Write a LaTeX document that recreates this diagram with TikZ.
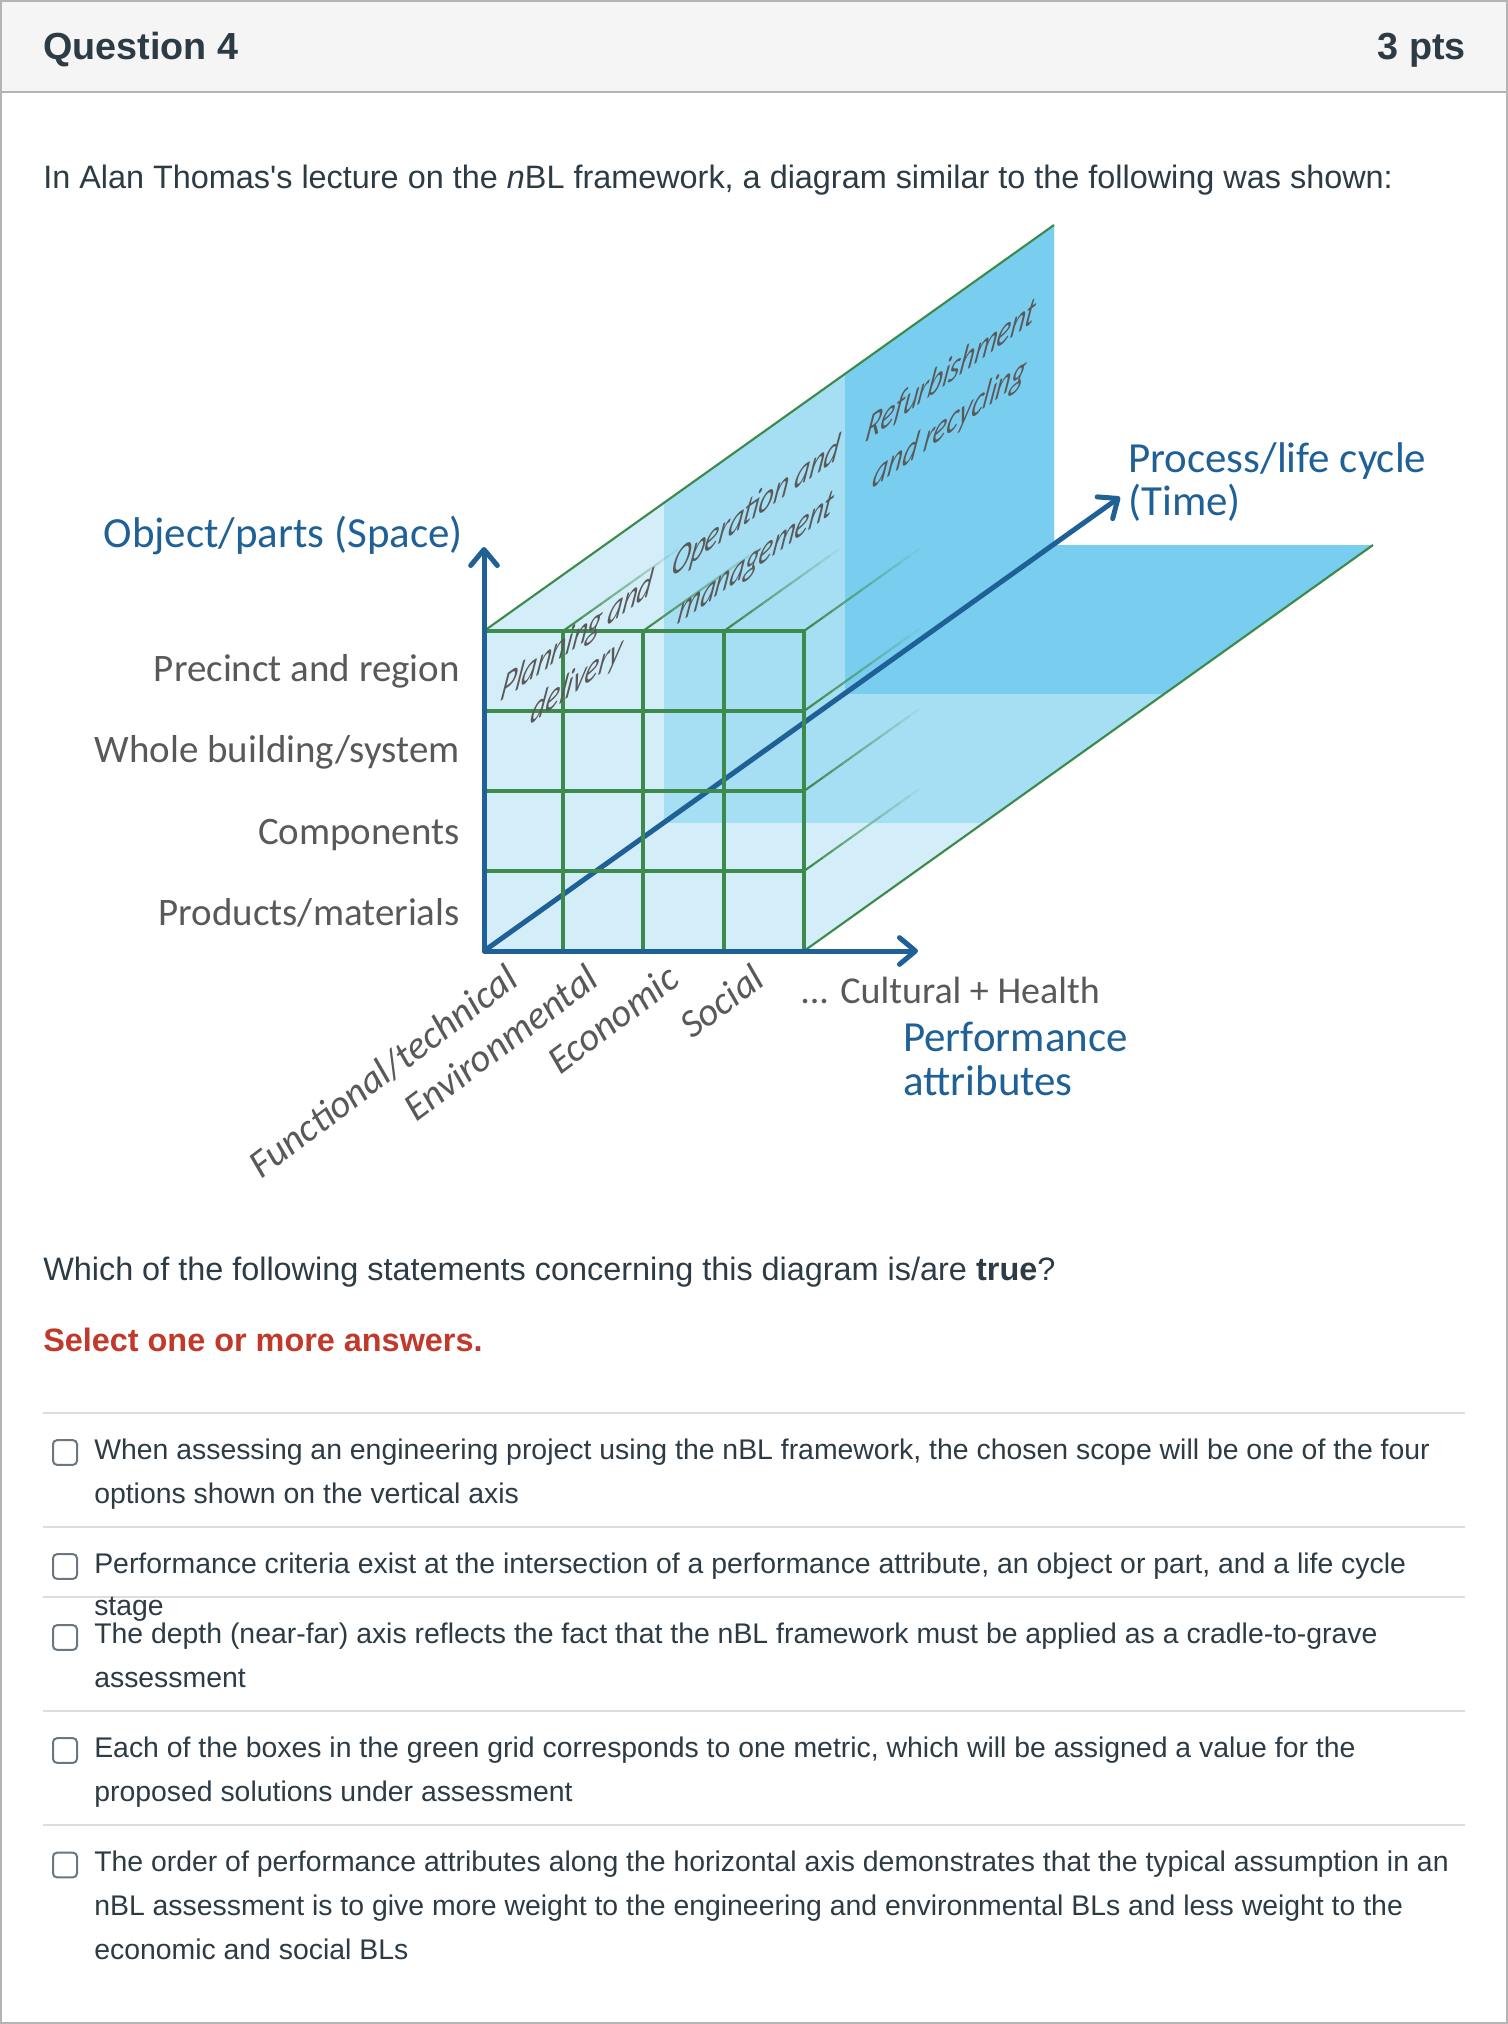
\documentclass[tikz,border=0pt]{standalone}
\usepackage{fontspec}
\setmainfont{Liberation Sans}
\newfontfamily\calibri{Carlito}
\usetikzlibrary{arrows.meta,calc,positioning}

\definecolor{bandA}{HTML}{D4EEF9}
\definecolor{bandB}{HTML}{A6DEF3}
\definecolor{bandC}{HTML}{79CEEF}
\definecolor{gridgreen}{HTML}{3C8A4C}
\definecolor{axisblue}{HTML}{1F6096}
\definecolor{labelgray}{HTML}{595959}
\definecolor{qtext}{HTML}{2D3B45}
\definecolor{qred}{HTML}{C0392B}
\definecolor{hdrbg}{HTML}{F5F5F5}
\definecolor{framegray}{HTML}{B4B4B4}
\definecolor{sepgray}{HTML}{DDDDDD}
\definecolor{boxgray}{HTML}{6B7780}

\begin{document}
\begin{tikzpicture}[
    x=0.75pt, y=-0.75pt,
    qhead/.style={font=\fontsize{28.3}{34}\selectfont\bfseries, text=qtext, inner sep=0},
    qbody/.style={font=\fontsize{24.3}{30}\selectfont, text=qtext, inner sep=0, anchor=base west},
    qopt/.style={font=\fontsize{21.3}{26}\selectfont, text=qtext, inner sep=0, anchor=base west},
    cbox/.style={draw=boxgray, line width=1.5pt, rounded corners=3pt, minimum width=18pt, minimum height=18.5pt, inner sep=0},
    sepline/.style={draw=sepgray, line width=1.5pt},
    axisline/.style={draw=axisblue, line width=3.75pt, line join=round},
    barb/.tip={Straight Barb[length=12pt, width=20pt, round]},
    gridline/.style={draw=gridgreen, line width=2.3pt},
    halo/.style={draw=white, line width=3.6pt},
    rimline/.style={draw=gridgreen, line width=1.6pt},
    rowlabel/.style={font=\calibri\fontsize{29.2}{34}\selectfont, text=labelgray, inner sep=0, anchor=base east},
    axislabel/.style={font=\calibri\fontsize{32.2}{38}\selectfont, text=axisblue, inner sep=0, anchor=base west},
    attrlabel/.style={font=\calibri\itshape\fontsize{29.5}{34}\selectfont, text=labelgray, inner sep=0, anchor=north east, rotate=37},
    stagelabel/.style={font=\calibri\itshape\fontsize{27}{32}\selectfont, text=labelgray, inner sep=0, anchor=base, cm={0.79,0.564,0.22,1.15,(0,0)}}
]
\useasboundingbox (0,0) rectangle (1508,2024);
\fill[white] (0,0) rectangle (1508,2024);

% Header
\fill[hdrbg] (1,1) rectangle (1507,92);
\draw[framegray, line width=1.5pt] (1,92) -- (1507,92);
\draw[framegray, line width=1.5pt] (1,1) rectangle (1507,2023);
\node[qhead, anchor=base west] (qtitle) at (43,59) {Question 4};
\node[qhead, anchor=base east] (qpts) at (1466,59) {3 pts};

\node[qbody] (intro) at (43,188) {In Alan Thomas\textquotesingle s lecture on the \textit{n}BL framework, a diagram similar to the following was shown:};

% Prism corners
\coordinate (O) at (484,951);
\coordinate (A) at (484,631);
\coordinate (B) at (1054,225);
\coordinate (C) at (1054,545);
\coordinate (E) at (1373,545);
\coordinate (F) at (804,951);

% Life cycle bands
\fill[bandA] (O) -- (A) -- (B) -- (C) -- (E) -- (F) -- cycle;
\begin{scope}
  \clip (O) -- (A) -- (B) -- (C) -- (E) -- (F) -- cycle;
  \fill[bandB] (664,823) rectangle (1400,200);
  \fill[bandC] (845,694) rectangle (1400,200);
\end{scope}
\draw[rimline] (A) -- (B);
\draw[rimline] (F) -- (E);

% Receding grid lines
\coordinate (t1) at (563,631);
\coordinate (t2) at (643,631);
\coordinate (t3) at (724,631);
\coordinate (t4) at (804,631);
\coordinate (r1) at (804,711);
\coordinate (r2) at (804,791);
\coordinate (r3) at (804,871);
\foreach \p in {t1,t2,t3,t4,r1,r2,r3}{
  \foreach \k in {0,...,11}{
    \pgfmathsetmacro{\op}{1-\k/12}
    \draw[rimline, draw opacity=\op] ($(\p)+(\k*9.6,-\k*6.83)$) -- ++(9.6,-6.83);
  }
}

% Time axis
\coordinate (ttip) at (1120,497);
\draw[axisline, -barb] (O) -- (ttip);

% Front grid
\foreach \x in {563,643,724,804}{
  \draw[halo] (\x,631) -- (\x,951);
}
\foreach \y in {631,711,791,871}{
  \draw[halo] (484,\y) -- (804,\y);
}
\foreach \x in {563,643,724,804}{
  \draw[gridline] (\x,630) -- (\x,951);
}
\foreach \y in {631,711,791,871}{
  \draw[gridline] (484,\y) -- (805,\y);
}

% Space and attribute axes
\coordinate (ytip) at (484,547);
\coordinate (xtip) at (918,951);
\draw[axisline, barb-barb] (ytip) -- (O) -- (xtip);

% Axis titles
\node[axislabel, anchor=base east] (space) at (463,547) {Object/parts (Space)};
\node[axislabel] (time1) at (1128,472) {Process/life cycle};
\node[axislabel] (time2) at ([yshift=-32.3pt]time1.base west) {(Time)};
\node[axislabel] (perf1) at (903,1051) {Performance};
\node[axislabel] (perf2) at ([yshift=-33pt]perf1.base west) {attributes};

% Object/parts
\node[rowlabel] (row1) at (460,681) {Precinct and region};
\node[rowlabel] (row2) at (460,762) {Whole building/system};
\node[rowlabel] (row3) at (460,844) {Components};
\node[rowlabel] (row4) at (460,925) {Products/materials};

% Performance attributes
\node[attrlabel] (att1) at (504,962) {Functional/technical};
\node[attrlabel] (att2) at (584,962) {Environmental};
\node[attrlabel] (att3) at (665,962) {Economic};
\node[attrlabel] (att4) at (750,962) {Social};
\node[rowlabel, font=\calibri\fontsize{28.5}{34}\selectfont, anchor=base west] (att5) at (800,1003) {... Cultural + Health};

% Life cycle stages
\node[stagelabel] (plan1) at (575,649) {Planning and};
\node[stagelabel] (plan2) at (575,693) {delivery};
\node[stagelabel] (oper1) at (754,519) {Operation and};
\node[stagelabel] (oper2) at (754,570) {management};
\node[stagelabel] (refu1) at (949,383) {Refurbishment};
\node[stagelabel] (refu2) at (948,435) {and recycling};

% Question
\node[qbody] (ask) at (43,1280) {Which of the following statements concerning this diagram is/are \textbf{true}?};
\node[qbody, font=\fontsize{24.3}{30}\selectfont\bfseries, text=qred] (hint) at (43,1351) {Select one or more answers.};

\foreach \y in {1413,1527,1597,1711,1825}{
  \draw[sepline] (43,\y) -- (1465,\y);
}

% Answers
\node[cbox] (b1) at (65,1452.5) {};
\node[qopt] (o1a) at (94,1459) {When assessing an engineering project using the nBL framework, the chosen scope will be one of the four};
\node[qopt] (o1b) at ([yshift=-33pt]o1a.base west) {options shown on the vertical axis};

\node[cbox] (b2) at (65,1566.5) {};
\node[qopt] (o2a) at (94,1573) {Performance criteria exist at the intersection of a performance attribute, an object or part, and a life cycle};
\node[qopt] (o2b) at ([yshift=-32pt]o2a.base west) {stage};

\node[cbox] (b3) at (65,1637.5) {};
\node[qopt] (o3a) at (94,1643) {The depth (near-far) axis reflects the fact that the nBL framework must be applied as a cradle-to-grave};
\node[qopt] (o3b) at ([yshift=-33pt]o3a.base west) {assessment};

\node[cbox] (b4) at (65,1750.5) {};
\node[qopt] (o4a) at (94,1757) {Each of the boxes in the green grid corresponds to one metric, which will be assigned a value for the};
\node[qopt] (o4b) at ([yshift=-33pt]o4a.base west) {proposed solutions under assessment};

\node[cbox] (b5) at (65,1865) {};
\node[qopt] (o5a) at (94,1871) {The order of performance attributes along the horizontal axis demonstrates that the typical assumption in an};
\node[qopt] (o5b) at ([yshift=-33pt]o5a.base west) {nBL assessment is to give more weight to the engineering and environmental BLs and less weight to the};
\node[qopt] (o5c) at ([yshift=-33pt]o5b.base west) {economic and social BLs};

\end{tikzpicture}
\end{document}
